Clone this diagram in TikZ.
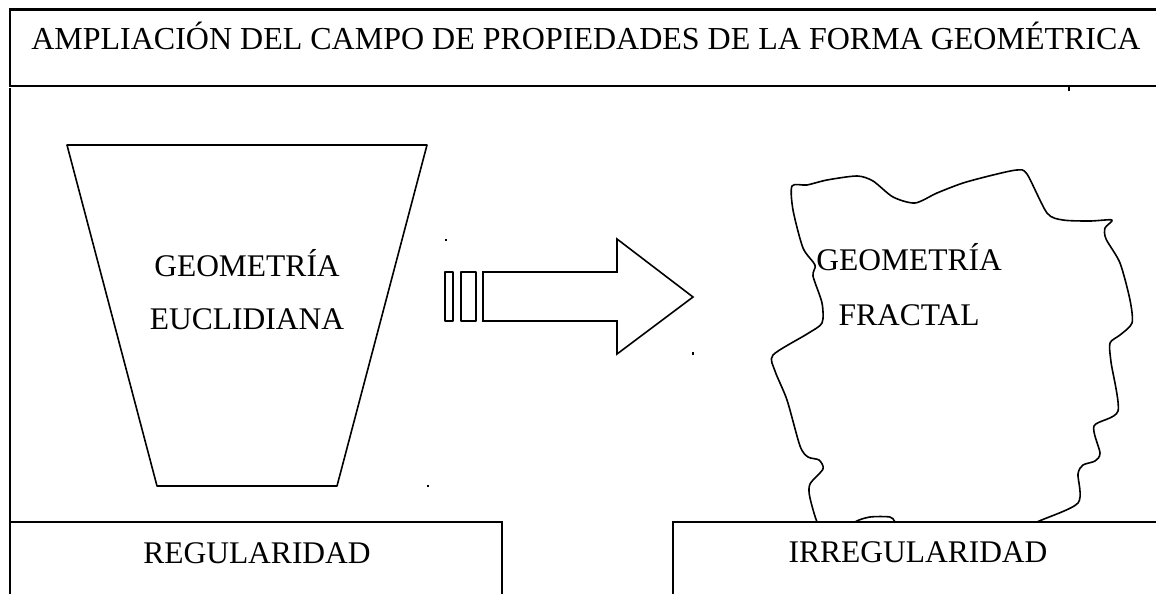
\documentclass[tikz,border=0pt]{standalone}
\usepackage{fontspec}
\setmainfont{Liberation Serif}
\usepackage{tikz}

\begin{document}
\begin{tikzpicture}[
  x=1pt, y=-1pt,
  box/.style={draw, line width=2.3pt},
  outline/.style={draw, line width=1.6pt, line join=round},
  lbl/.style={anchor=base, inner sep=0pt, font=\fontsize{31.5}{38}\selectfont},
  speck/.style={fill=black}
]
\clip (0,0) rectangle (1156,594);
\fill[white] (0,0) rectangle (1156,594);
% title band and frame
\draw[box] (10,9.5) rectangle (1175,86);
\node[lbl, font=\fontsize{32}{38}\selectfont] (title) at (586,50) {AMPLIACIÓN DEL CAMPO DE PROPIEDADES DE LA FORMA GEOMÉTRICA};
\draw[box] (10,88) -- (10,522);
% euclidean side
\draw[outline] (67,145) -- (427,145) -- (337,486) -- (157,486) -- cycle;
\node[lbl] (geoEu) at (247,276) {GEOMETRÍA};
\node[lbl] (nameEu) at (247,329) {EUCLIDIANA};
% arrow
\draw[outline] (445,272) rectangle (453,321);
\draw[outline] (461,272) rectangle (476,321);
\draw[outline, line join=miter] (483,272) -- (617,272) -- (617,239) -- (693,297)
  -- (617,354) -- (617,321) -- (483,321) -- cycle;
% fractal side
\draw[outline] plot[smooth cycle, tension=0.45] coordinates {
  (792,186) (807,185) (827,180) (857,176) (873,181) (893,197) (915,203)
  (937,193) (963,183) (993,175) (1017,170) (1027,174) (1047,213) (1063,220)
  (1090,221) (1112,220) (1105,228) (1106,239) (1120,263) (1130,300)
  (1132,323) (1120,335) (1110,343) (1111,362) (1118,411) (1094,426)
  (1100,453) (1095,461) (1083,465) (1078,474) (1078,503) (1037,522)
  (1000,540) (905,538) (895,522) (890,517) (870,517) (855,522) (840,536)
  (820,528) (810,498) (810,484) (823,469) (819,460) (808,457) (800,446)
  (787,400) (775,371) (773,355) (807,334) (822,323) (822,303) (813,276)
  (815,265) (803,248) (793,210)};
\node[lbl] (geoFr) at (909,270) {GEOMETRÍA};
\node[lbl] (nameFr) at (909,325) {FRACTAL};
% bottom bands
\draw[box, fill=white] (10,522) rectangle (502,610);
\node[lbl] (regular) at (257,563) {REGULARIDAD};
\draw[box, fill=white] (673,522) rectangle (1175,610);
\node[lbl] (irregular) at (918,562) {IRREGULARIDAD};
% stray marks
\fill[speck] (445,239) rectangle (447,241);
\fill[speck] (692,352) rectangle (694,355);
\fill[speck] (427,485) rectangle (429,487);
\fill[speck] (1068,87) rectangle (1070,91);
\end{tikzpicture}
\end{document}
